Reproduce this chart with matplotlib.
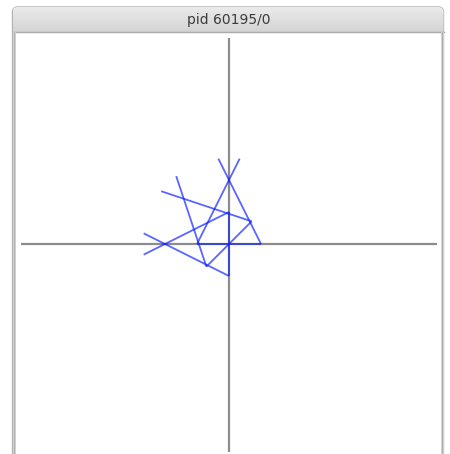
import numpy as np
import matplotlib
matplotlib.use("Agg")
import matplotlib.pyplot as plt
from matplotlib.patches import FancyBboxPatch, Rectangle

# ---- data (data units, origin at centre) ----
title = "pid 60195/0"
axis_extent = 6.5
seg_x0 = [-1.0, 0.0, -0.707, 1.0, -1.0, 0.707, -0.707, 0.0, 0.0]
seg_y0 = [0.0, 1.0, -0.707, 0.0, 0.0, 0.707, -0.707, 1.0, -1.0]
seg_x1 = [1.0, 0.0, 0.707, -0.333, 0.333, -2.121, -1.650, -2.667, -2.667]
seg_y1 = [0.0, -1.0, 0.707, 2.667, 2.667, 1.650, 2.121, -0.333, 0.333]

W, H = 450, 454
fig = plt.figure(figsize=(W / 100, H / 100), dpi=100)
fig.patch.set_facecolor("white")

# ---- window chrome (pixel coordinates) ----
ch = fig.add_axes([0, 0, 1, 1])
ch.set_xlim(0, W)
ch.set_ylim(H, 0)
ch.axis("off")

win_l, win_r, win_t = 12.5, 443.5, 7.0
frame = FancyBboxPatch((win_l, win_t), win_r - win_l, H + 20 - win_t,
                       boxstyle="round,pad=0,rounding_size=5",
                       facecolor="white", edgecolor="#b4b4b4", lw=1.0, zorder=1)
ch.add_patch(frame)
# title bar gradient
grad = np.linspace(0.92, 0.83, 64).reshape(-1, 1)
img = ch.imshow(np.dstack([grad, grad, grad]), extent=(win_l, win_r, 32, win_t),
                aspect="auto", zorder=2, interpolation="bilinear")
img.set_clip_path(frame)
ch.plot([win_l, win_r], [32, 32], color="#aaaaaa", lw=1.0, zorder=3)
# side borders
for x in (win_l + 1.5, win_r - 1.5):
    ch.add_patch(Rectangle((x - 1.5, 32), 3, H - 32, facecolor="#d2d2d2",
                           edgecolor="none", zorder=3))
    ch.plot([x, x], [32, H], color="#b0b0b0", lw=0.8, zorder=4)
ch.text(229, 20, title, ha="center", va="center", fontsize=10,
        color="#3c3c3c", family="DejaVu Sans", zorder=5)

# ---- drawing area ----
ox, oy, sc = 229, 244, 32.0
l_px, r_px, t_px, b_px = 16, 440, 33, 454
ax = fig.add_axes([l_px / W, (H - b_px) / H, (r_px - l_px) / W, (b_px - t_px) / H])
ax.set_xlim((l_px - ox) / sc, (r_px - ox) / sc)
ax.set_ylim((oy - b_px) / sc, (oy - t_px) / sc)
ax.axis("off")
ax.patch.set_alpha(0)

ax.plot([-axis_extent, axis_extent], [0, 0], color="#8c8c8c", lw=1.6, zorder=1,
        solid_capstyle="butt")
ax.plot([0, 0], [-axis_extent, 6.45], color="#8c8c8c", lw=1.6, zorder=1,
        solid_capstyle="butt")

for x0, y0, x1, y1 in zip(seg_x0, seg_y0, seg_x1, seg_y1):
    ax.plot([x0, x1], [y0, y1], color="#0a1eff", alpha=0.68, lw=1.3, zorder=2,
            solid_capstyle="butt")

fig.savefig("out.png", dpi=100, facecolor="white")
